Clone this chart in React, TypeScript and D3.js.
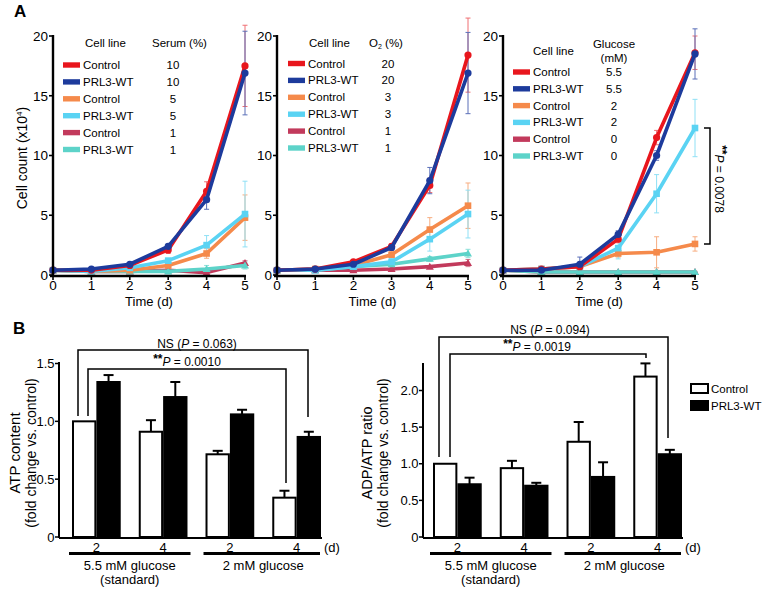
import React from "react";
import * as d3 from "d3";

// ---------- Panel A data ----------
const days = [0, 1, 2, 3, 4, 5];
const cellLines = ["Control", "PRL3-WT", "Control", "PRL3-WT", "Control", "PRL3-WT"];
const yTicksA = [0, 5, 10, 15, 20];

const serumLevels = ["10", "10", "5", "5", "1", "1"];
const serumMeans = [
  [0.4, 0.4, 0.8, 2.1, 7.0, 17.5],
  [0.4, 0.5, 0.9, 2.4, 6.3, 16.9],
  [0.4, 0.3, 0.4, 0.8, 1.8, 4.8],
  [0.4, 0.3, 0.6, 1.2, 2.5, 5.1],
  [0.4, 0.3, 0.3, 0.4, 0.2, 1.0],
  [0.4, 0.3, 0.3, 0.3, 0.5, 0.8],
];
const serumErrors = [
  [0.05, 0.05, 0.1, 0.3, 0.8, 3.4],
  [0.05, 0.05, 0.1, 0.2, 0.8, 3.5],
  [0.05, 0.05, 0.1, 0.2, 0.4, 1.9],
  [0.05, 0.05, 0.1, 0.2, 0.8, 2.75],
  [0.05, 0.05, 0.05, 0.1, 0.1, 0.2],
  [0.05, 0.05, 0.05, 0.1, 0.3, 0.3],
];

const o2Levels = ["20", "20", "3", "3", "1", "1"];
const o2Means = [
  [0.4, 0.5, 1.1, 2.4, 7.5, 18.4],
  [0.4, 0.5, 0.9, 2.3, 7.9, 16.9],
  [0.4, 0.5, 0.8, 1.7, 3.8, 5.8],
  [0.4, 0.4, 0.7, 1.1, 3.0, 5.1],
  [0.4, 0.4, 0.4, 0.5, 0.7, 1.0],
  [0.4, 0.4, 0.7, 0.9, 1.35, 1.8],
];
const o2Errors = [
  [0.05, 0.05, 0.1, 0.2, 0.6, 3.1],
  [0.05, 0.05, 0.1, 0.2, 1.1, 3.4],
  [0.05, 0.05, 0.1, 0.3, 1.0, 1.9],
  [0.05, 0.05, 0.1, 0.3, 1.0, 2.0],
  [0.05, 0.05, 0.05, 0.1, 0.1, 0.3],
  [0.05, 0.05, 0.1, 0.1, 0.2, 0.35],
];

const glucoseLevels = ["5.5", "5.5", "2", "2", "0", "0"];
const glucoseMeans = [
  [0.4, 0.5, 0.7, 3.0, 11.5, 18.6],
  [0.4, 0.4, 0.9, 3.4, 10.0, 18.5],
  [0.4, 0.5, 0.7, 1.8, 1.9, 2.6],
  [0.4, 0.5, 0.7, 2.25, 6.8, 12.3],
  [0.4, 0.25, 0.25, 0.25, 0.25, 0.25],
  [0.4, 0.25, 0.25, 0.25, 0.25, 0.25],
];
const glucoseErrors = [
  [0.05, 0.1, 0.2, 0.3, 0.6, 1.4],
  [0.05, 0.1, 0.6, 0.3, 0.4, 2.1],
  [0.05, 0.1, 0.1, 0.3, 1.3, 0.6],
  [0.05, 0.1, 0.2, 0.9, 1.6, 2.4],
  [0.05, 0.05, 0.05, 0.05, 0.05, 0.05],
  [0.05, 0.05, 0.05, 0.05, 0.05, 0.05],
];

// ---------- Panel B data ----------
const barDays = ["2", "4", "2", "4"];
const barSeries = ["Control", "PRL3-WT"];
const atpControl = [1.0, 0.91, 0.715, 0.34];
const atpControlErr = [0, 0.1, 0.03, 0.06];
const atpPrl = [1.34, 1.21, 1.06, 0.865];
const atpPrlErr = [0.06, 0.13, 0.04, 0.045];
const adpControl = [1.0, 0.94, 1.3, 2.19];
const adpControlErr = [0, 0.1, 0.27, 0.18];
const adpPrl = [0.72, 0.7, 0.82, 1.13];
const adpPrlErr = [0.09, 0.04, 0.2, 0.06];
const atpTicks = [0, 0.5, 1.0, 1.5];
const adpTicks = [0, 0.5, 1.0, 1.5, 2.0];

// ---------- styles ----------
const FONT = "'Liberation Sans', Arial, Helvetica, sans-serif";
const lineColors = ["#e8161d", "#1d3b9c", "#f58a4b", "#5ad3f3", "#c23a5c", "#5dd3c9"];
const errColors = ["#ef6f72", "#5a6fb8", "#f7ad80", "#8fe0f5", "#d47a90", "#8ee0d9"];
const markerTypes = ["circle", "circle", "square", "square", "triangle", "triangle"];
const drawOrder = [4, 5, 2, 3, 0, 1];

type PanelProps = {
  x0: number;
  x1: number;
  means: number[][];
  errors: number[][];
  levels: string[];
  legendX: number;
  legendY: number;
  levelX: number;
  header: React.ReactNode;
  rowStep: number;
};

const Y0 = 275;
const Y1 = 36;

function Marker({ type, x, y, color }: { type: string; x: number; y: number; color: string }) {
  if (type === "circle") return <circle cx={x} cy={y} r={3.6} fill={color} />;
  if (type === "square") return <rect x={x - 3.3} y={y - 3.3} width={6.6} height={6.6} fill={color} />;
  return <path d={`M${x},${y - 4}L${x + 4},${y + 3}L${x - 4},${y + 3}Z`} fill={color} />;
}

function GrowthPanel(p: PanelProps) {
  const x = d3.scaleLinear().domain([0, 5]).range([p.x0, p.x1]);
  const y = d3.scaleLinear().domain([0, 20]).range([Y0, Y1]);
  const line = d3
    .line<number>()
    .x((_, i) => x(days[i]))
    .y((d) => y(d));
  return (
    <g>
      {drawOrder.map((s) => (
        <g key={"e" + s} stroke={errColors[s]} strokeWidth={1}>
          {p.means[s].map((m, i) => {
            const e = p.errors[s][i];
            const cx = x(days[i]);
            return (
              <g key={i}>
                <line x1={cx} x2={cx} y1={y(m - e)} y2={y(m + e)} />
                <line x1={cx - 2.5} x2={cx + 2.5} y1={y(m + e)} y2={y(m + e)} />
                <line x1={cx - 2.5} x2={cx + 2.5} y1={y(m - e)} y2={y(m - e)} />
              </g>
            );
          })}
        </g>
      ))}
      {drawOrder.map((s) => (
        <g key={"l" + s}>
          <path d={line(p.means[s]) || ""} fill="none" stroke={lineColors[s]} strokeWidth={3.6} strokeLinejoin="round" />
          {p.means[s].map((m, i) => (
            <Marker key={i} type={markerTypes[s]} x={x(days[i])} y={y(m)} color={lineColors[s]} />
          ))}
        </g>
      ))}
      <line x1={p.x0} x2={p.x0} y1={Y1 - 1} y2={Y0 + 1} stroke="#000" strokeWidth={2.4} />
      <line x1={p.x0 - 3} x2={p.x1 + 1} y1={Y0 + 1} y2={Y0 + 1} stroke="#000" strokeWidth={2.4} />
      {yTicksA.map((t) => (
        <g key={"yt" + t}>
          <line x1={p.x0 - 4} x2={p.x0} y1={y(t)} y2={y(t)} stroke="#000" strokeWidth={1.6} />
          <text x={p.x0 - 5} y={y(t) + 4.8} textAnchor="end" fontSize={13.5}>
            {t}
          </text>
        </g>
      ))}
      {days.map((d) => (
        <g key={"xt" + d}>
          <line x1={x(d)} x2={x(d)} y1={Y0 + 1} y2={Y0 + 5} stroke="#000" strokeWidth={1.6} />
          <text x={x(d)} y={Y0 + 14.5} textAnchor="middle" fontSize={13.5}>
            {d}
          </text>
        </g>
      ))}
      <text x={(p.x0 + p.x1) / 2} y={306} textAnchor="middle" fontSize={13}>
        Time (d)
      </text>
      {p.header}
      {cellLines.map((c, i) => {
        const ly = p.legendY + i * p.rowStep;
        return (
          <g key={"lg" + i}>
            <rect x={p.legendX} y={ly - 2.7} width={17} height={5.4} fill={lineColors[i]} />
            <text x={p.legendX + 20} y={ly + 4} fontSize={11.5}>
              {c}
            </text>
            <text x={p.levelX} y={ly + 4} fontSize={11.5} textAnchor="middle">
              {p.levels[i]}
            </text>
          </g>
        );
      })}
    </g>
  );
}

type BarProps = {
  axisX: number;
  bandStart: number;
  bandEnd: number;
  yMaxVal: number;
  yMaxPx: number;
  axisTop: number;
  axisRight: number;
  ticks: number[];
  control: number[];
  controlErr: number[];
  prl: number[];
  prlErr: number[];
};

const BY0 = 537;

function BarPanel(p: BarProps) {
  const outer = d3.scaleBand<number>().domain([0, 1, 2, 3]).range([p.bandStart, p.bandEnd]).paddingInner(0.27).paddingOuter(0);
  const inner = d3.scaleBand<string>().domain(barSeries).range([0, outer.bandwidth()]);
  const y = d3.scaleLinear().domain([0, p.yMaxVal]).range([BY0, p.yMaxPx]);
  const vals = [p.control, p.prl];
  const errs = [p.controlErr, p.prlErr];
  const o = (i: number) => outer(i) || 0;
  const bw = outer.bandwidth();
  return (
    <g>
      {barSeries.map((s, si) =>
        vals[si].map((v, gi) => {
          const bx = o(gi) + (inner(s) || 0);
          const w = inner.bandwidth();
          const top = y(v);
          const e = errs[si][gi];
          const cx = bx + w / 2;
          return (
            <g key={s + gi}>
              {e > 0 && (
                <g stroke="#000" strokeWidth={2}>
                  <line x1={cx} x2={cx} y1={top} y2={y(v + e)} />
                  <line x1={cx - 5} x2={cx + 5} y1={y(v + e)} y2={y(v + e)} />
                </g>
              )}
              <rect x={bx + 1} y={top} width={w - 2} height={BY0 - top} fill={si === 0 ? "#fff" : "#000"} stroke="#000" strokeWidth={2} />
            </g>
          );
        })
      )}
      <line x1={p.axisX} x2={p.axisX} y1={p.axisTop} y2={BY0 + 1} stroke="#000" strokeWidth={2} />
      <line x1={p.axisX} x2={p.axisRight} y1={BY0 + 1} y2={BY0 + 1} stroke="#000" strokeWidth={2} />
      {p.ticks.map((t) => (
        <g key={"t" + t}>
          <line x1={p.axisX - 4} x2={p.axisX} y1={y(t)} y2={y(t)} stroke="#000" strokeWidth={1.5} />
          <text x={p.axisX - 4.5} y={y(t) + 4.6} textAnchor="end" fontSize={13}>
            {t === 0 ? "0" : t.toFixed(1)}
          </text>
        </g>
      ))}
      {barDays.map((d, gi) => (
        <text key={"d" + gi} x={o(gi) + bw / 2} y={551.5} textAnchor="middle" fontSize={13}>
          {d}
        </text>
      ))}
      <text x={p.axisRight + 2} y={551.5} fontSize={13}>
        (d)
      </text>
      <rect x={o(0) - 3} y={552} width={o(1) + bw - o(0) + 6} height={3} fill="#000" />
      <rect x={o(2) - 2} y={552} width={o(3) + bw - o(2) + 1} height={3} fill="#000" />
      <text x={(o(0) + o(1) + bw) / 2} y={570} textAnchor="middle" fontSize={13}>
        5.5 mM glucose
      </text>
      <text x={(o(0) + o(1) + bw) / 2} y={583.5} textAnchor="middle" fontSize={13}>
        (standard)
      </text>
      <text x={(o(2) + o(3) + bw) / 2} y={570} textAnchor="middle" fontSize={13}>
        2 mM glucose
      </text>
    </g>
  );
}

export default function App() {
  return (
    <svg width={767} height={590} style={{ position: "absolute", left: 0, top: 0, background: "#fff" }} fontFamily={FONT}>
      <rect width={767} height={590} fill="#fff" />
      <text x={14} y={17} fontSize={17} fontWeight="bold">
        A
      </text>
      <text x={13} y={334} fontSize={17} fontWeight="bold">
        B
      </text>

      <text transform="translate(27,158) rotate(-90)" textAnchor="middle" fontSize={14}>
        Cell count (x10
        <tspan fontSize={8} dy={-5}>
          4
        </tspan>
        <tspan dy={5}>)</tspan>
      </text>

      <GrowthPanel
        x0={53}
        x1={245}
        means={serumMeans}
        errors={serumErrors}
        levels={serumLevels}
        legendX={63}
        legendY={65}
        levelX={173}
        rowStep={16.9}
        header={
          <g fontSize={11.5}>
            <text x={85} y={47}>Cell line</text>
            <text x={152} y={47}>Serum (%)</text>
          </g>
        }
      />
      <GrowthPanel
        x0={277}
        x1={468}
        means={o2Means}
        errors={o2Errors}
        levels={o2Levels}
        legendX={288}
        legendY={63.5}
        levelX={388}
        rowStep={16.9}
        header={
          <g fontSize={11.5}>
            <text x={309} y={47}>Cell line</text>
            <text x={369} y={47}>
              O<tspan fontSize={7} dy={2}>2</tspan>
              <tspan dy={-2}> (%)</tspan>
            </text>
          </g>
        }
      />
      <GrowthPanel
        x0={503}
        x1={695}
        means={glucoseMeans}
        errors={glucoseErrors}
        levels={glucoseLevels}
        legendX={513}
        legendY={72}
        levelX={614}
        rowStep={16.8}
        header={
          <g fontSize={11.5}>
            <text x={533} y={55}>Cell line</text>
            <text x={614} y={48} textAnchor="middle">Glucose</text>
            <text x={614} y={62} textAnchor="middle">(mM)</text>
          </g>
        }
      />
      <path d="M704,128H710V244H704" fill="none" stroke="#000" strokeWidth={1.5} />
      <text transform="translate(715,179) rotate(90)" textAnchor="middle" fontSize={12}>
        <tspan fontWeight="bold" dy={-3}>**</tspan>
        <tspan dy={3} fontStyle="italic">P</tspan>
        <tspan> = 0.0078</tspan>
      </text>

      {/* Panel B left */}
      <text transform="translate(20,453) rotate(-90)" textAnchor="middle" fontSize={15}>
        ATP content
      </text>
      <text transform="translate(35.5,453) rotate(-90)" textAnchor="middle" fontSize={14}>
        (fold change vs. control)
      </text>
      <BarPanel
        axisX={59}
        bandStart={72}
        bandEnd={321}
        yMaxVal={1.5}
        yMaxPx={363.5}
        axisTop={362}
        axisRight={322}
        ticks={atpTicks}
        control={atpControl}
        controlErr={atpControlErr}
        prl={atpPrl}
        prlErr={atpPrlErr}
      />
      <g fill="none" stroke="#000" strokeWidth={1.5}>
        <path d="M78,416V350H308V417" />
        <path d="M88,416V369H286V483" />
      </g>
      <text x={197} y={348} textAnchor="middle" fontSize={12}>
        NS (<tspan fontStyle="italic">P</tspan> = 0.063)
      </text>
      <text x={187} y={366} textAnchor="middle" fontSize={12}>
        <tspan fontWeight="bold" dy={-3}>**</tspan>
        <tspan dy={3} fontStyle="italic">P</tspan> = 0.0010
      </text>

      {/* Panel B right */}
      <text transform="translate(372,453) rotate(-90)" textAnchor="middle" fontSize={14.5}>
        ADP/ATP ratio
      </text>
      <text transform="translate(388,453) rotate(-90)" textAnchor="middle" fontSize={14}>
        (fold change vs. control)
      </text>
      <BarPanel
        axisX={423}
        bandStart={433}
        bandEnd={682}
        yMaxVal={2.0}
        yMaxPx={390.5}
        axisTop={363}
        axisRight={683}
        ticks={adpTicks}
        control={adpControl}
        controlErr={adpControlErr}
        prl={adpPrl}
        prlErr={adpPrlErr}
      />
      <g fill="none" stroke="#000" strokeWidth={1.5}>
        <path d="M439,457V337H668V438" />
        <path d="M450,457V354H646V358" />
      </g>
      <text x={550} y={334} textAnchor="middle" fontSize={12}>
        NS (<tspan fontStyle="italic">P</tspan> = 0.094)
      </text>
      <text x={537} y={351} textAnchor="middle" fontSize={12}>
        <tspan fontWeight="bold" dy={-3}>**</tspan>
        <tspan dy={3} fontStyle="italic">P</tspan> = 0.0019
      </text>

      {barSeries.map((s, i) => (
        <g key={s}>
          <rect x={691} y={384 + i * 17} width={17} height={9} fill={i === 0 ? "#fff" : "#000"} stroke="#000" strokeWidth={2} />
          <text x={711} y={392.5 + i * 17} fontSize={11.5}>
            {s}
          </text>
        </g>
      ))}
    </svg>
  );
}
